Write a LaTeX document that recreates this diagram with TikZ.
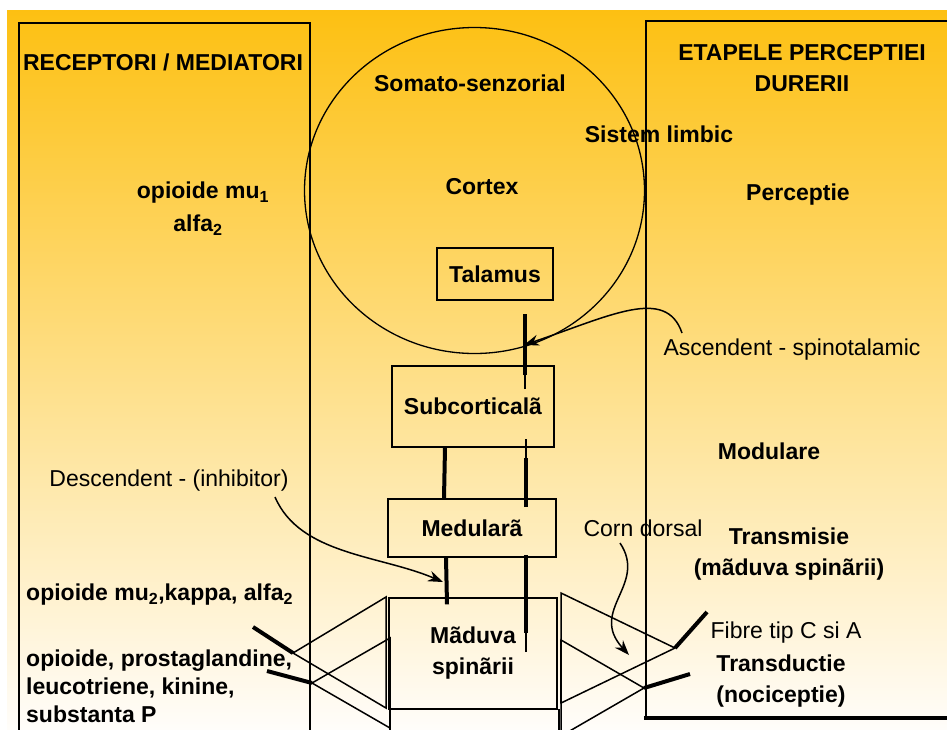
\documentclass[tikz,border=0pt]{standalone}
\usepackage{fontspec}
\setmainfont{Liberation Sans}
\usetikzlibrary{arrows.meta}

\definecolor{slidetop}{RGB}{253,192,18}
\definecolor{slidemid}{RGB}{253,224,165}
\definecolor{slidebot}{RGB}{255,253,250}

\begin{document}
\begin{tikzpicture}[x=1pt,y=-1pt,
  bold/.style={font=\fontsize{23}{31}\selectfont\bfseries},
  plain/.style={font=\fontsize{23}{31}\selectfont},
  box/.style={draw,line width=1.3pt,inner sep=0pt},
  axon/.style={line width=1.5pt},
  fibre/.style={line width=4pt},
  arr/.style={line width=1.5pt,-{Stealth[length=15pt,width=11pt]}}]
\useasboundingbox (0,0) rectangle (947,729);
\clip (0,0) rectangle (947,729);
\shade[top color=slidetop,middle color=slidemid,bottom color=slidebot] (7,10) rectangle (947,729);

% panels
\draw[line width=1.3pt] (19,23) rectangle (310,745);
\draw[line width=1.3pt] (646,718) -- (646,21) -- (960,21);
\draw[line width=3.5pt] (644,718) -- (960,718);

% cortex
\draw[line width=1.3pt] (474.5,190.5) ellipse [x radius=170, y radius=163];

\node[bold] (rec) at (163,62) {RECEPTORI / MEDIATORI};
\node[bold] (mu1) at (203,193) {opioide mu\textsubscript{1}};
\node[bold] (alfa) at (198,225) {alfa\textsubscript{2}};
\node[bold,align=center] (etape) at (802,68) {ETAPELE PERCEPTIEI\\DURERII};
\node[bold] (perc) at (798,195) {Perceptie};
\node[bold] (somato) at (470,83) {Somato-senzorial};
\node[bold] (limbic) at (659,134) {Sistem limbic};
\node[bold] (cortex) at (482,187) {Cortex};
\node[bold] (modul) at (769,451) {Modulare};
\node[bold,align=center] (transm) at (789,554) {Transmisie\\(mãduva spinãrii)};
\node[bold,align=center] (transd) at (781,681) {Transductie\\(nociceptie)};
\node[bold,anchor=west,inner sep=0pt] (mu2) at (26,595) {opioide mu\textsubscript{2},kappa, alfa\textsubscript{2}};
\node[bold,anchor=west,align=left,inner sep=0pt,font=\fontsize{23}{28}\selectfont\bfseries] (prost) at (26,686) {opioide, prostaglandine,\\leucotriene, kinine,\\substanta P};

\node[plain] (desc) at (169,481) {Descendent - (inhibitor)};
\node[plain] (asc) at (792,350) {Ascendent - spinotalamic};
\node[plain] (corn) at (643,528) {Corn dorsal};
\node[plain] (fibre) at (786,633) {Fibre tip C si A};

% boxes
\node[box,bold,minimum width=116pt,minimum height=52pt] (talamus) at (495,274) {Talamus};
\node[box,bold,minimum width=162pt,minimum height=81pt] (subc) at (473,406.5) {Subcorticalã};
\node[box,bold,minimum width=168pt,minimum height=58pt] (medul) at (472,528) {Medularã};
\node[box,bold,align=center,minimum width=168pt,minimum height=111pt] (maduva) at (473,653.5) {Mãduva\\spinãrii};
\draw[axon] (390,709) -- (390,745);
\draw[axon] (559,709) -- (559,745);

% descending pathway
\draw[fibre] ([xshift=-28pt]subc.south) -- ([xshift=-28pt]medul.north);
\draw[fibre] ([xshift=-26pt]medul.south) -- ([xshift=-26pt,yshift=-7pt]maduva.north);

% ascending pathway
\coordinate (up1) at (526,652);
\coordinate (up2) at (526,633);
\coordinate (up3) at (526,507);
\coordinate (up4) at (526,458);
\coordinate (up5) at (525,389);
\coordinate (up6) at (525,375);
\coordinate (up7) at (525,314);
\draw[axon] (up1) -- (up2);
\draw[fibre] (up2) -- ([xshift=54pt,yshift=3pt]medul.south);
\draw[fibre] (up3) -- (up4);
\draw[axon] (up4) -- ([xshift=53pt,yshift=9pt]subc.south);
\draw[axon] (up5) -- (up6);
\draw[fibre] (up6) -- (up7);

% fibres in dorsal horn
\coordinate (apexA) at (293,653);
\coordinate (apexB) at (312,683);
\coordinate (apexC) at (675,648);
\coordinate (apexD) at (644,688);
\draw[axon] (386,597) -- (apexA) -- (386,708) -- cycle;
\draw[axon] (390,638) -- (apexB) -- (390,728) -- cycle;
\draw[axon] (561,593) -- (apexC) -- (561,703) -- cycle;
\draw[axon] (561,640) -- (apexD) -- (561,736) -- cycle;
\draw[line width=2.5pt] (561,640) -- (561,703);
\draw[line width=2.5pt] (390,638) -- (390,709);
\draw[fibre] (apexA) -- ++(-40,-26);
\draw[fibre] (apexB) -- ++(-45,-12);
\draw[fibre] (apexC) -- ++(32,-36);
\draw[fibre] (apexD) -- ++(46,-14);

% arrows
\coordinate (asc start) at (682,333);
\coordinate (asc end) at (524,345);
\coordinate (desc start) at (275,497);
\coordinate (desc end) at (443,582);
\coordinate (corn start) at (620,543);
\coordinate (corn end) at (629,655);
\draw[arr] (asc start) .. controls (666,286) and (610,316) .. (asc end);
\draw[arr] (desc start) .. controls (300,555) and (380,555) .. (desc end);
\draw[arr] (corn start) .. controls (648,585) and (588,610) .. (corn end);
\end{tikzpicture}
\end{document}
